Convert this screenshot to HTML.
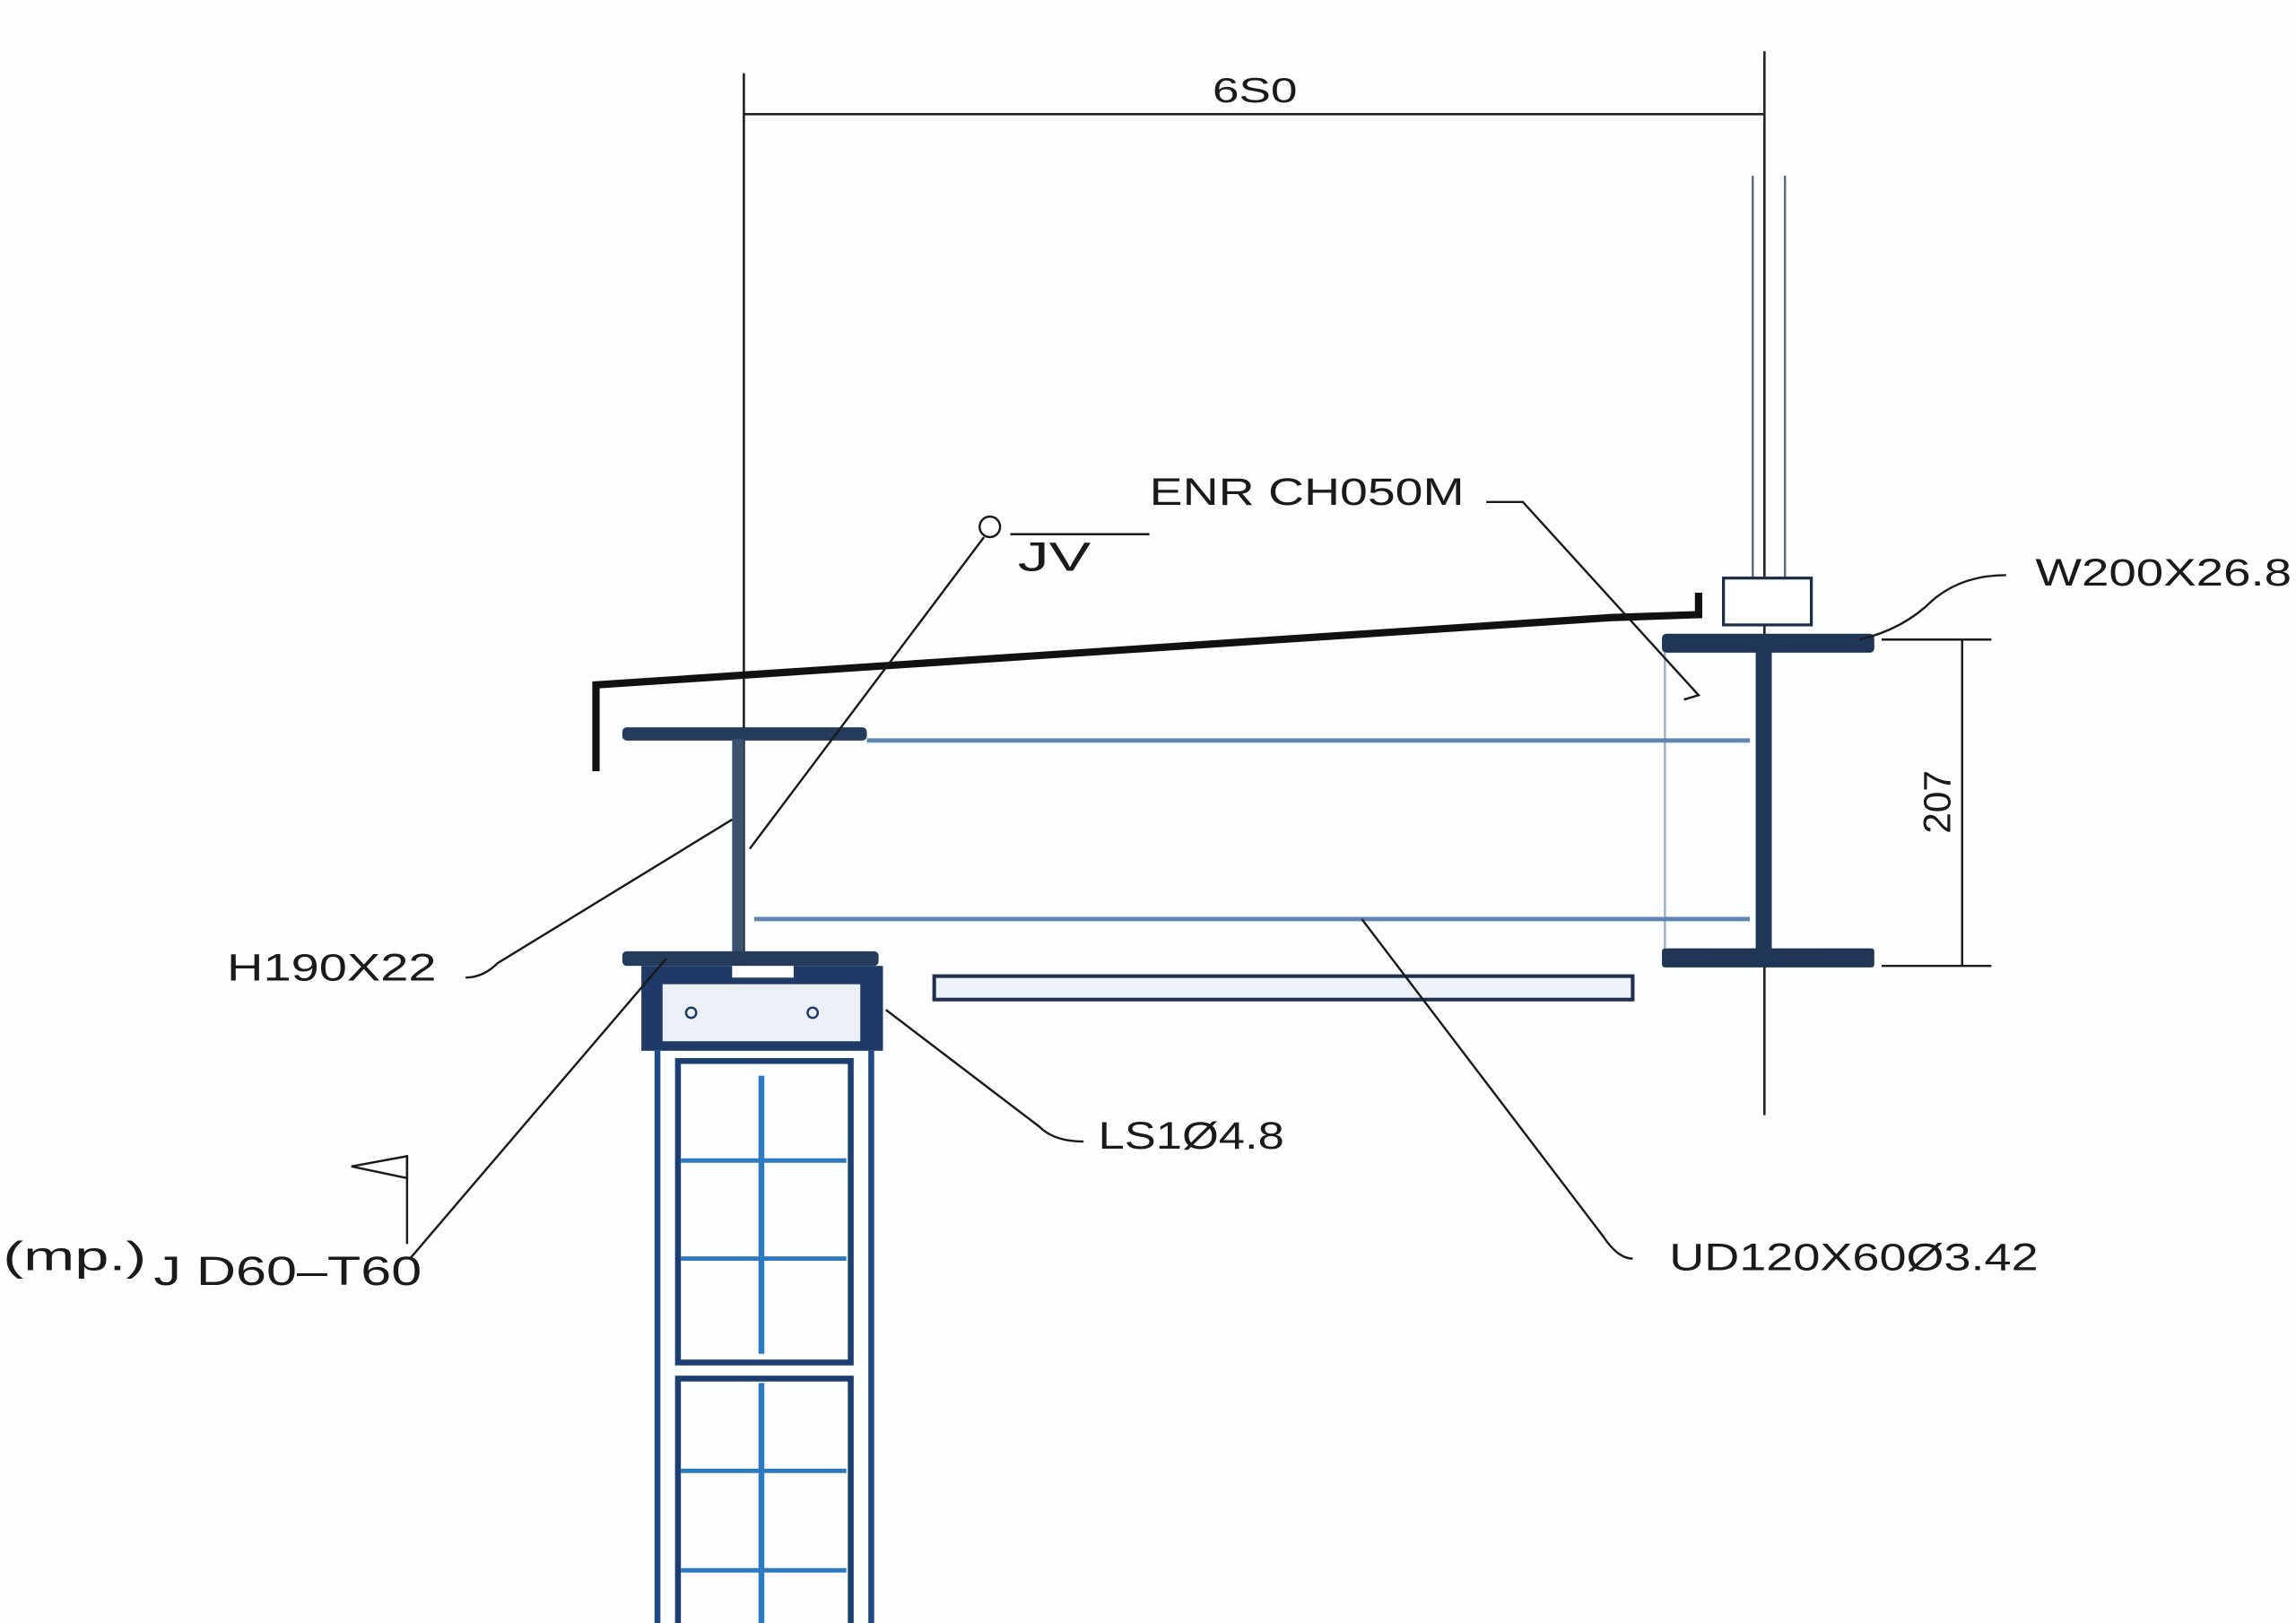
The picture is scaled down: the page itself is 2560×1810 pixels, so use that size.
<!DOCTYPE html>
<html><head><meta charset="utf-8"><style>
html,body{margin:0;padding:0;background:#fff;}
svg{display:block;}
text{font-family:"Liberation Sans",sans-serif;fill:#1a1a1a;}
</style></head><body>
<svg width="2560" height="1810" viewBox="0 0 1568 1109" preserveAspectRatio="none" xmlns="http://www.w3.org/2000/svg">
<rect width="1568" height="1109" fill="#fdfeff"/>
<g stroke="#222" stroke-width="1.6" fill="none">
<line x1="508" y1="50" x2="508" y2="660"/>
<line x1="508" y1="78" x2="1205" y2="78"/>
<line x1="1205" y1="35" x2="1205" y2="762"/>
</g>
<text x="828" y="70" font-size="24" textLength="58" lengthAdjust="spacingAndGlyphs">6S0</text>
<g stroke="#5a6a80" stroke-width="1.5" fill="none">
<line x1="1197" y1="120" x2="1197" y2="395"/>
<line x1="1219" y1="120" x2="1219" y2="395"/>
</g>
<rect x="1177" y="395" width="60" height="32" fill="#fff" stroke="#1d2d45" stroke-width="2"/>
<path d="M407 527 L407 468 L1100 422 L1160 420 L1160 405" fill="none" stroke="#111" stroke-width="5"/>
<rect x="1135" y="433" width="145" height="13" rx="3" fill="#1f3656"/>
<rect x="1199" y="445" width="11" height="205" fill="#1f3656"/>
<rect x="1135" y="648" width="145" height="13" rx="2" fill="#1f3656"/>
<line x1="1137" y1="446" x2="1137" y2="648" stroke="#9fb0c4" stroke-width="1.5"/>
<rect x="425" y="497" width="167" height="9" rx="3" fill="#243b5c"/>
<rect x="500" y="505" width="8" height="147" fill="#3a5170"/>
<rect x="425" y="650" width="175" height="10" rx="3" fill="#243b5c"/>
<line x1="592" y1="506" x2="1195" y2="506" stroke="#5f86b0" stroke-width="3"/>
<line x1="515" y1="628" x2="1195" y2="628" stroke="#5f86b0" stroke-width="3"/>
<rect x="638" y="667" width="477" height="16" fill="#eef3f9" stroke="#1f3050" stroke-width="2.5"/>
<rect x="438" y="660" width="165" height="58" fill="#1f3a66"/>
<rect x="452" y="672" width="136" height="40" fill="#eceff5" stroke="#1f3a66" stroke-width="1"/>
<rect x="500" y="660" width="42" height="8" fill="#fff"/>
<circle cx="472" cy="692" r="3.5" fill="none" stroke="#1f3a66" stroke-width="1.5"/>
<circle cx="555" cy="692" r="3.5" fill="none" stroke="#1f3a66" stroke-width="1.5"/>
<g fill="none">
<line x1="449" y1="718" x2="449" y2="1109" stroke="#1f4a85" stroke-width="4"/>
<line x1="595" y1="718" x2="595" y2="1109" stroke="#1f4a85" stroke-width="4"/>
<rect x="463" y="725" width="118" height="206" stroke="#1d3e70" stroke-width="4"/>
<rect x="463" y="942" width="118" height="175" stroke="#1d3e70" stroke-width="4"/>
<line x1="520" y1="735" x2="520" y2="925" stroke="#2d7ac0" stroke-width="4"/>
<line x1="520" y1="945" x2="520" y2="1109" stroke="#2d7ac0" stroke-width="4"/>
<g stroke="#2d7ac0" stroke-width="3">
<line x1="465" y1="793" x2="578" y2="793"/>
<line x1="465" y1="860" x2="578" y2="860"/>
<line x1="465" y1="1005" x2="578" y2="1005"/>
<line x1="465" y1="1073" x2="578" y2="1073"/>
</g>
</g>
<g stroke="#1a1a1a" stroke-width="1.5" fill="none">
<path d="M318 668 Q330 668 340 658 L500 560"/>
<path d="M280 860 L455 655"/>
<path d="M740 780 Q720 780 710 770 L605 690"/>
<path d="M1115 860 Q1105 860 1095 845 L930 628"/>
<path d="M1015 343 L1040 343 L1160 475 L1150 478"/>
<path d="M1370 393 Q1340 393 1320 410 Q1300 430 1270 437"/>
<line x1="1340" y1="437" x2="1340" y2="660"/>
<line x1="1285" y1="437" x2="1360" y2="437"/>
<line x1="1285" y1="660" x2="1360" y2="660"/>
<circle cx="676" cy="360" r="7"/>
<line x1="672" y1="367" x2="512" y2="580"/>
<line x1="690" y1="365" x2="785" y2="365"/>
<line x1="278" y1="790" x2="278" y2="850"/>
<path d="M240 797 L278 790 L278 805 Z"/>
</g>
<text x="785" y="345" font-size="26" textLength="215" lengthAdjust="spacingAndGlyphs">ENR  CH050M</text>
<text x="695" y="390" font-size="28" textLength="50" lengthAdjust="spacingAndGlyphs">JV</text>
<text x="1390" y="400" font-size="26" textLength="175" lengthAdjust="spacingAndGlyphs">W200X26.8</text>
<text x="155" y="670" font-size="26" textLength="143" lengthAdjust="spacingAndGlyphs">H190X22</text>
<text x="750" y="785" font-size="26" textLength="127" lengthAdjust="spacingAndGlyphs">LS1Ø4.8</text>
<text x="2" y="868" font-size="28" textLength="98" lengthAdjust="spacingAndGlyphs">(mp.)</text>
<text x="105" y="878" font-size="28" textLength="183" lengthAdjust="spacingAndGlyphs">J D60–T60</text>
<text x="1140" y="868" font-size="26" textLength="252" lengthAdjust="spacingAndGlyphs">UD120X60Ø3.42</text>
<text x="0" y="0" font-size="26" transform="translate(1332,548) rotate(-90)" text-anchor="middle">207</text>
</svg>
</body></html>
